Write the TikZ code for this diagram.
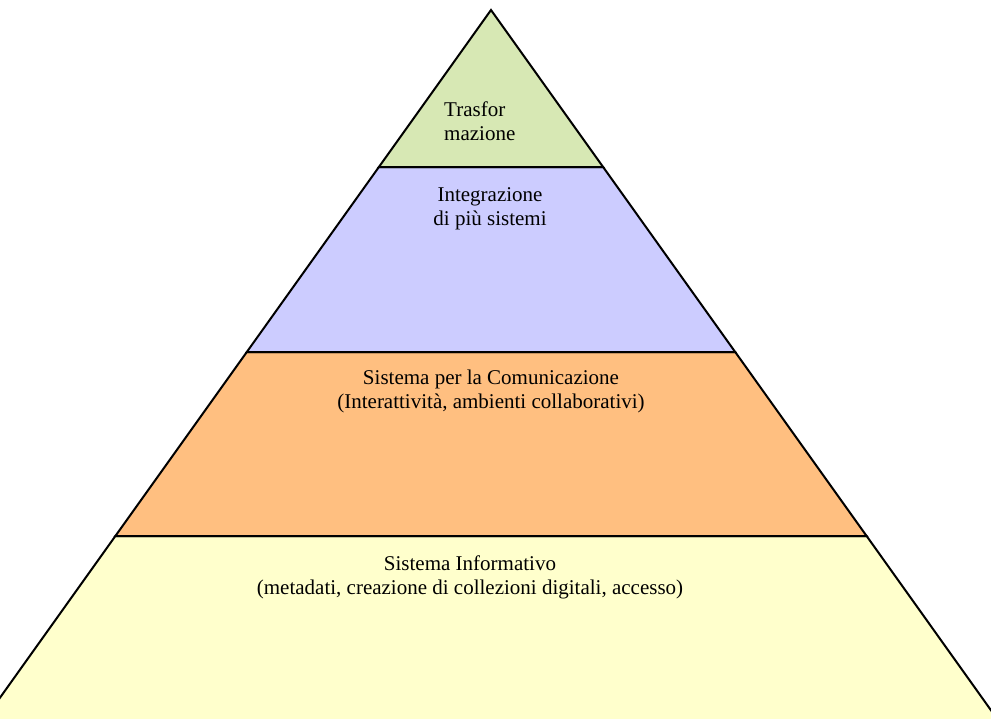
\documentclass[tikz,border=0pt]{standalone}
\usepackage{fontspec}
\setmainfont{Liberation Serif}
\usepackage{tikz}

\definecolor{livgreen}{HTML}{D7E8B4}
\definecolor{livblue}{HTML}{CCCCFF}
\definecolor{livorange}{HTML}{FFBF80}
\definecolor{livyellow}{HTML}{FFFFCC}

\tikzset{
  band/.style={draw=black,line width=2pt,line join=miter},
  label/.style={font=\fontsize{21}{24}\selectfont,align=center,inner sep=0pt}
}

\begin{document}
\begin{tikzpicture}[x=1pt,y=-1pt]
        \useasboundingbox (0,0) rectangle (991,718);
        \clip (0,0) rectangle (991,718);

        % corners of the bands
        \coordinate (T) at (491,10);
        \coordinate (L1) at (378.9,167); \coordinate (R1) at (603.1,167);
        \coordinate (L2) at (246.8,352); \coordinate (R2) at (735.2,352);
        \coordinate (L3) at (115.4,536); \coordinate (R3) at (866.6,536);
        \coordinate (L4) at (-19.5,725); \coordinate (R4) at (1001.5,725);

        \draw[band,fill=livyellow] (L3)--(R3)--(R4)--(L4)--cycle;
        \draw[band,fill=livorange] (L2)--(R2)--(R3)--(L3)--cycle;
        \draw[band,fill=livblue] (L1)--(R1)--(R2)--(L2)--cycle;
        \draw[band,fill=livgreen] (T)--(R1)--(L1)--cycle;

        \node[label,align=left,anchor=west] (trasf) at (444,121) {Trasfor\\mazione};
        \node[label] (integr) at (490,209) {Integrazione\\di più sistemi};
        \node[label] (comun) at (491,391) {Sistema per la Comunicazione\\(Interattività, ambienti collaborativi)};
        \node[label] (inform) at (470,577) {Sistema Informativo\\(metadati, creazione di collezioni digitali, accesso)};

    \end{tikzpicture}
\end{document}
